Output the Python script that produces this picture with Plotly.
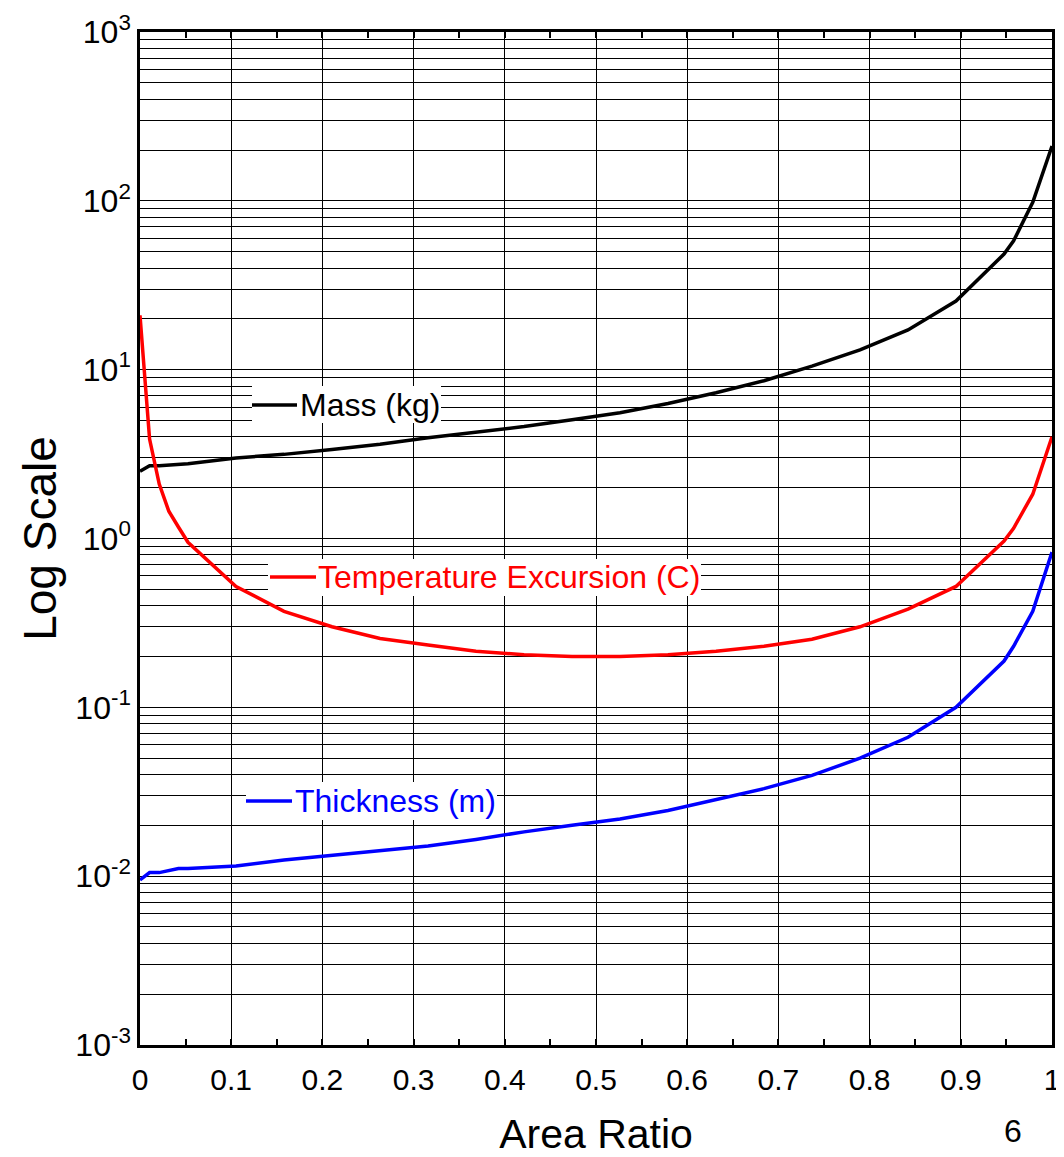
import plotly.graph_objects as go

# ---- data ----
area_ratio = [0, 0.0105, 0.0211, 0.0316, 0.0421, 0.0526, 0.1053, 0.1579, 0.2105, 0.2632,
              0.3158, 0.3684, 0.4211, 0.4737, 0.5263, 0.5789, 0.6316, 0.6842, 0.7368,
              0.7895, 0.8421, 0.8947, 0.9474, 0.9579, 0.9789, 1.0]

mass_kg = [2.5, 2.7, 2.7, 2.72, 2.75, 2.77, 3.0, 3.15, 3.37, 3.62,
           3.95, 4.25, 4.6, 5.05, 5.55, 6.3, 7.3, 8.6, 10.5,
           13.1, 17.2, 25.5, 48.4, 58.0, 98.0, 211.0]

temp_excursion_c = [21.0, 3.88, 2.1, 1.45, 1.17, 0.95, 0.52, 0.37, 0.30, 0.256,
                    0.234, 0.215, 0.205, 0.20, 0.20, 0.205, 0.215, 0.23, 0.253,
                    0.30, 0.382, 0.52, 0.966, 1.15, 1.83, 4.0]

thickness_m = [0.0095, 0.0105, 0.0105, 0.0108, 0.0111, 0.0111, 0.0115, 0.01245, 0.0133, 0.0141,
               0.0151, 0.0165, 0.0183, 0.0200, 0.0218, 0.0245, 0.0285, 0.0330, 0.0395,
               0.0500, 0.0665, 0.100, 0.188, 0.23, 0.37, 0.83]

series_names = ["Mass (kg)", "Temperature Excursion (C)", "Thickness (m)"]
series_colors = ["#000000", "#FF0000", "#0000FF"]

x_tick_vals = [0, 0.1, 0.2, 0.3, 0.4, 0.5, 0.6, 0.7, 0.8, 0.9, 1]
x_tick_text = ["0", "0.1", "0.2", "0.3", "0.4", "0.5", "0.6", "0.7", "0.8", "0.9", "1"]
y_exponents = [-3, -2, -1, 0, 1, 2, 3]

FONT = "Arial, Liberation Sans, sans-serif"

fig = go.Figure()
for name, ys, col in zip(series_names, [mass_kg, temp_excursion_c, thickness_m], series_colors):
    fig.add_trace(go.Scatter(x=area_ratio, y=ys, mode="lines", name=name,
                             line=dict(color=col, width=3.5), showlegend=False))

y_tick_vals = [10.0 ** e for e in y_exponents]
y_tick_text = ["10<sup>%d</sup>" % e for e in y_exponents]
y_minor_vals = [m * 10.0 ** e for e in y_exponents[:-1] for m in range(2, 10)]

fig.update_xaxes(
    range=[0, 1], tickmode="array", tickvals=x_tick_vals, ticktext=x_tick_text,
    showgrid=True, gridcolor="#000000", gridwidth=1,
    showline=True, linecolor="#000000", linewidth=2.5, mirror="allticks",
    ticks="inside", ticklen=6, tickcolor="#000000", tickwidth=1.5,
    minor=dict(tickmode="array", tickvals=[0.05 + 0.1 * i for i in range(10)],
               ticks="inside", ticklen=6, tickcolor="#000000", tickwidth=1.5, showgrid=False),
    tickfont=dict(family=FONT, size=30, color="#000000"),
    ticklabelstandoff=6,
    title=dict(text="Area Ratio", font=dict(family=FONT, size=41, color="#000000"), standoff=46),
    zeroline=False, automargin=False,
)
fig.update_yaxes(
    type="log", range=[-3, 3], tickmode="array", tickvals=y_tick_vals, ticktext=y_tick_text,
    showgrid=True, gridcolor="#000000", gridwidth=1,
    showline=True, linecolor="#000000", linewidth=2.5, mirror=True,
    ticks="",
    minor=dict(tickmode="array", tickvals=y_minor_vals, showgrid=True,
               gridcolor="#000000", gridwidth=1, ticks=""),
    tickfont=dict(family=FONT, size=32, color="#000000"),
    title=dict(text="Log Scale", font=dict(family=FONT, size=46, color="#000000"), standoff=5),
    zeroline=False, automargin=False,
)

# legend-like labels inside the plot (paper coordinates from screen-pixel layout)
L, R, T, B = 140, 1052, 32, 1045
def px(xp):
    return (xp - L) / (R - L)
def py(yp):
    return (B - yp) / (B - T)

labels = [
    # (box x0, box x1, box y0, box y1, line x0, line x1, line y, text x)
    (252, 441, 386, 423, 252, 297, 405, 298),
    (268, 701, 559, 596, 270, 316, 577, 316),
    (246, 497, 782, 820, 246, 292, 801, 293),
]
for (bx0, bx1, by0, by1, lx0, lx1, ly, tx), name, col in zip(labels, series_names, series_colors):
    fig.add_shape(type="rect", xref="paper", yref="paper", x0=px(bx0), x1=px(bx1),
                  y0=py(by1), y1=py(by0), fillcolor="white", line=dict(width=0), layer="above")
    fig.add_shape(type="line", xref="paper", yref="paper", x0=px(lx0), x1=px(lx1),
                  y0=py(ly), y1=py(ly), line=dict(color=col, width=3.5), layer="above")
    fig.add_annotation(xref="paper", yref="paper", x=px(tx), y=py(ly), text=name,
                       xanchor="left", yanchor="middle", showarrow=False,
                       font=dict(family=FONT, size=32, color=col))

fig.add_annotation(xref="paper", yref="paper", x=px(1013), y=py(1131), text="6",
                   xanchor="center", yanchor="middle", showarrow=False,
                   font=dict(family=FONT, size=32, color="#000000"))

# the page body adds an 8px offset, so the figure is sized/margined to compensate
fig.update_layout(
    width=1056, height=1149,
    margin=dict(l=132, r=12, t=24, b=112, pad=0),
    paper_bgcolor="white", plot_bgcolor="white",
    font=dict(family=FONT, color="#000000"),
)

fig.write_html("out.html")
